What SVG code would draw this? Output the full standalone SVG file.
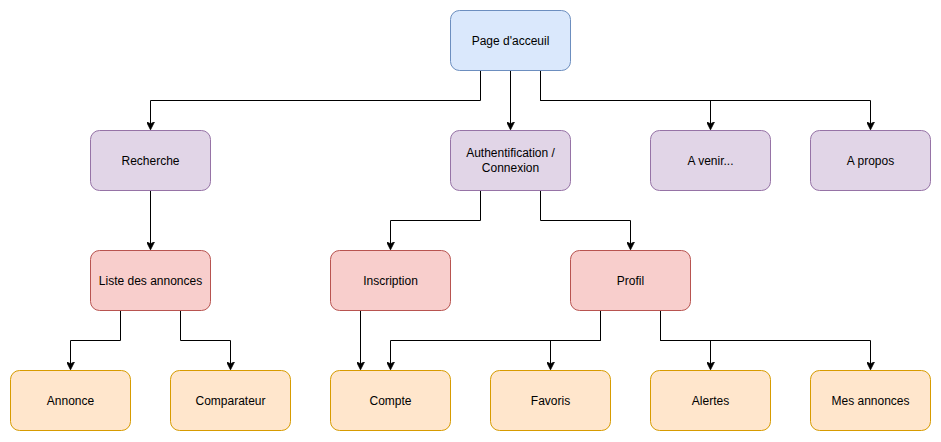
<svg xmlns="http://www.w3.org/2000/svg" width="941" height="442" viewBox="0 0 941 442">
<defs>
<style>
.n rect{stroke-width:1}
.blue rect{fill:#dae8fc;stroke:#6c8ebf}
.purple rect{fill:#e1d5e7;stroke:#9673a6}
.red rect{fill:#f8cecc;stroke:#b85450}
.orange rect{fill:#ffe6cc;stroke:#d79b00}
.n text{font-family:"Liberation Sans",Arial,sans-serif;font-size:12px;fill:#000;text-anchor:middle;dominant-baseline:central}
#edges path{fill:none;stroke:#000;stroke-width:1;marker-end:url(#arr)}
</style>
<marker id="arr" viewBox="0 0 10 10" refX="9" refY="5" markerWidth="8" markerHeight="8" markerUnits="userSpaceOnUse" orient="auto">
<path d="M0,0 L10,5 L0,10 L2.5,5 Z" fill="#000" stroke="#000" stroke-width="1"/>
</marker>
</defs>
<rect width="941" height="442" fill="#fff"/>
<g id="edges">
<path d="M480.5,70.5 V100.5 H150.5 V129"/>
<path d="M510.5,70.5 V129"/>
<path d="M540.5,70.5 V100.5 H710.5 V129"/>
<path d="M540.5,70.5 V100.5 H870.5 V129"/>
<path d="M150.5,190.5 V249"/>
<path d="M480.5,190.5 V220.5 H390.5 V249"/>
<path d="M540.5,190.5 V220.5 H630.5 V249"/>
<path d="M120.5,310.5 V340.5 H70.5 V369"/>
<path d="M180.5,310.5 V340.5 H230.5 V369"/>
<path d="M360.5,310.5 V369"/>
<path d="M600.5,310.5 V340.5 H390.5 V369"/>
<path d="M600.5,310.5 V340.5 H550.5 V369"/>
<path d="M660.5,310.5 V340.5 H710.5 V369"/>
<path d="M660.5,310.5 V340.5 H870.5 V369"/>
</g>
<g id="page" class="n blue"><rect x="450.5" y="10.5" width="120" height="60" rx="9"/><text x="510.5" y="40.5">Page d'acceuil</text></g>
<g id="recherche" class="n purple"><rect x="90.5" y="130.5" width="120" height="60" rx="9"/><text x="150.5" y="160.5">Recherche</text></g>
<g id="auth" class="n purple"><rect x="450.5" y="130.5" width="120" height="60" rx="9"/><text x="510.5" y="153">Authentification /</text><text x="510.5" y="168">Connexion</text></g>
<g id="avenir" class="n purple"><rect x="650.5" y="130.5" width="120" height="60" rx="9"/><text x="710.5" y="160.5">A venir...</text></g>
<g id="apropos" class="n purple"><rect x="810.5" y="130.5" width="120" height="60" rx="9"/><text x="870.5" y="160.5">A propos</text></g>
<g id="liste" class="n red"><rect x="90.5" y="250.5" width="120" height="60" rx="9"/><text x="150.5" y="280.5">Liste des annonces</text></g>
<g id="inscription" class="n red"><rect x="330.5" y="250.5" width="120" height="60" rx="9"/><text x="390.5" y="280.5">Inscription</text></g>
<g id="profil" class="n red"><rect x="570.5" y="250.5" width="120" height="60" rx="9"/><text x="630.5" y="280.5">Profil</text></g>
<g id="annonce" class="n orange"><rect x="10.5" y="370.5" width="120" height="60" rx="9"/><text x="70.5" y="400.5">Annonce</text></g>
<g id="comparateur" class="n orange"><rect x="170.5" y="370.5" width="120" height="60" rx="9"/><text x="230.5" y="400.5">Comparateur</text></g>
<g id="compte" class="n orange"><rect x="330.5" y="370.5" width="120" height="60" rx="9"/><text x="390.5" y="400.5">Compte</text></g>
<g id="favoris" class="n orange"><rect x="490.5" y="370.5" width="120" height="60" rx="9"/><text x="550.5" y="400.5">Favoris</text></g>
<g id="alertes" class="n orange"><rect x="650.5" y="370.5" width="120" height="60" rx="9"/><text x="710.5" y="400.5">Alertes</text></g>
<g id="mesannonces" class="n orange"><rect x="810.5" y="370.5" width="120" height="60" rx="9"/><text x="870.5" y="400.5">Mes annonces</text></g>
</svg>
